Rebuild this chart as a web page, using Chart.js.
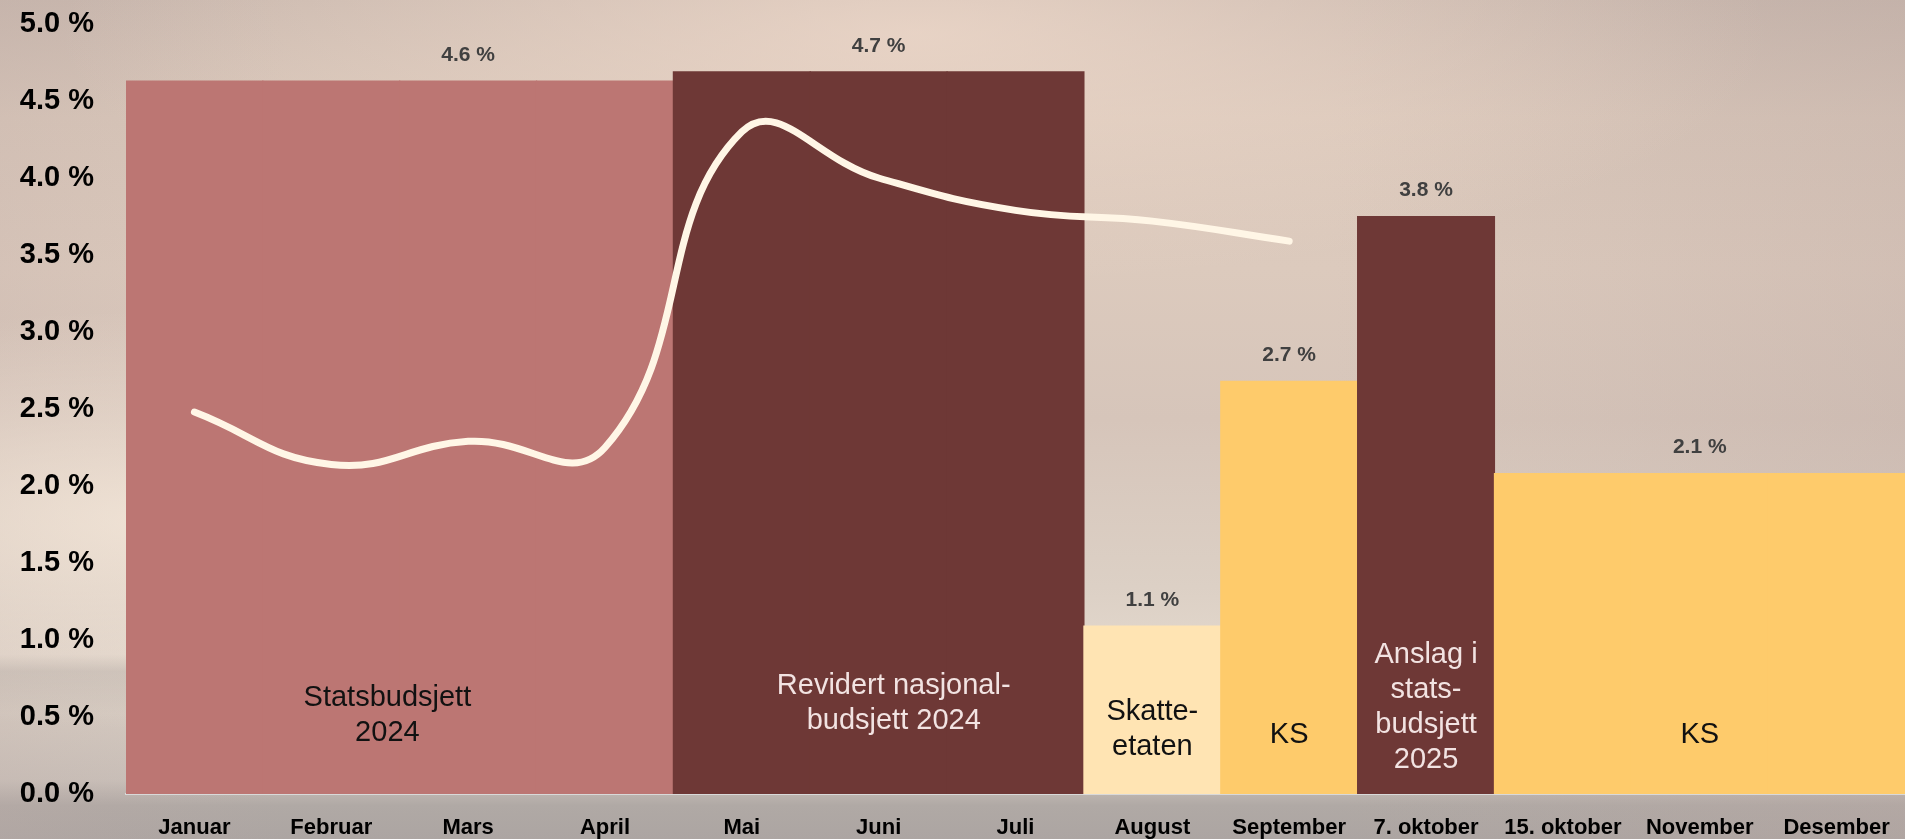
<!DOCTYPE html>
<html lang="no">
<head>
<meta charset="utf-8">
<title>Anslag på lønnsvekst 2024</title>
<script src="https://cdn.jsdelivr.net/npm/chart.js@4.4.1/dist/chart.umd.min.js"></script>
<style>
  html, body { margin: 0; padding: 0; }
  body {
    width: 1905px;
    height: 839px;
    overflow: hidden;
    background:
      radial-gradient(ellipse 45% 30% at 48% 4%, rgba(242, 220, 205, 0.7), rgba(242, 220, 205, 0) 100%),
      radial-gradient(ellipse 30% 25% at 8% 62%, rgba(245, 232, 218, 0.8), rgba(245, 232, 218, 0) 100%),
      linear-gradient(to right, rgba(190, 170, 165, 0.25) 0%, rgba(0, 0, 0, 0) 15%, rgba(0, 0, 0, 0) 70%, rgba(185, 165, 160, 0.3) 100%),
      linear-gradient(to bottom, #c9b8ae 0%, #d8c6b9 14%, #dccabd 32%, #d6c5ba 50%, #dcd0c5 70%, #e2d7cc 78%, #c4bbb3 80%, #d6ccc2 85%, #cac1ba 93%, #b0a9a5 96%, #aca5a2 100%);
  }
  #wrap { position: relative; width: 1905px; height: 839px; }
</style>
</head>
<body>
<div id="wrap"><canvas id="chart"></canvas></div>
<script>
const months = ['Januar', 'Februar', 'Mars', 'April', 'Mai', 'Juni', 'Juli', 'August', 'September', '7. oktober', '15. oktober', 'November', 'Desember'];

// estimated wage growth per category (bars), same value over the span of each estimate
const estimateValues = [4.63, 4.63, 4.63, 4.63, 4.69, 4.69, 4.69, 1.09, 2.68, 3.75, 2.08, 2.08, 2.08];
const estimateColors = ['#bc7673', '#bc7673', '#bc7673', '#bc7673', '#6e3836', '#6e3836', '#6e3836', '#ffe4b3', '#fecb6b', '#6e3836', '#fecb6b', '#fecb6b', '#fecb6b'];
// which bars carry the value label
const labelledBars = [2, 5, 7, 8, 9, 11];

// price growth line (Jan - Sep)
const priceValues = [2.48, 2.14, 2.29, 2.25, 4.3, 4.0, 3.79, 3.72, 3.59, null, null, null, null];

const yTicks = [0, 0.5, 1, 1.5, 2, 2.5, 3, 3.5, 4, 4.5, 5];

// names written inside the bars: anchor category (fractional index) and level in %
const noteTexts = [['Statsbudsjett', '2024'], ['Revidert nasjonal-', 'budsjett 2024'], ['Skatte-', 'etaten'], ['KS'], ['Anslag i', 'stats-', 'budsjett', '2025'], ['KS']];
const noteAt = [1.41, 5.11, 7, 8, 9, 11];
const noteLevel = [0.51, 0.59, 0.42, 0.38, 0.56, 0.38];
const noteColors = ['#111111', '#f2e3e2', '#111111', '#111111', '#f2e3e2', '#111111'];

const pct = v => v.toFixed(1) + ' %';

const labelPlugin = {
  id: 'labels',
  afterDatasetsDraw(chart) {
    const ctx = chart.ctx;
    const x = chart.scales.x;
    const y = chart.scales.y;
    const bars = chart.getDatasetMeta(1).data;
    ctx.save();
    ctx.textAlign = 'center';
    ctx.textBaseline = 'middle';

    ctx.font = 'bold 21px "Liberation Sans", Arial, sans-serif';
    ctx.fillStyle = '#404040';
    labelledBars.forEach(i => {
      const b = bars[i];
      ctx.fillText(pct(estimateValues[i]), b.x, b.y - 26);
    });

    ctx.font = '29px "Liberation Sans", Arial, sans-serif';
    noteTexts.forEach((lines, n) => {
      const cx = x.getPixelForValue(noteAt[n]);
      const cy = y.getPixelForValue(noteLevel[n]);
      const lh = 35;
      ctx.fillStyle = noteColors[n];
      lines.forEach((t, k) => {
        ctx.fillText(t, cx, cy + (k - (lines.length - 1) / 2) * lh);
      });
    });
    ctx.restore();
  }
};

new Chart(document.getElementById('chart'), {
  data: {
    labels: months,
    datasets: [{
      type: 'line',
      label: 'Prisvekst',
      data: priceValues,
      borderColor: '#fff6e6',
      borderWidth: 7,
      borderCapStyle: 'round',
      pointRadius: 0,
      tension: 0.45,
      order: 0
    }, {
      type: 'bar',
      label: 'Anslag',
      data: estimateValues,
      backgroundColor: estimateColors,
      borderWidth: 0,
      inflateAmount: 0.6,
      barPercentage: 1,
      categoryPercentage: 1,
      order: 1
    }]
  },
  options: {
    responsive: true,
    maintainAspectRatio: false,
    animation: false,
    layout: { padding: { top: 24, left: 19, right: 0, bottom: 0 } },
    plugins: {
      legend: { display: false },
      tooltip: { enabled: false }
    },
    scales: {
      x: {
        afterFit(scale) {
          scale.height = 45;
          scale.paddingLeft = 0;
          scale.paddingRight = 0;
        },
        grid: { display: false, drawTicks: false },
        border: { display: true, color: '#d9d9d9', width: 2 },
        ticks: {
          color: '#000000',
          font: { family: '"Liberation Sans", Arial, sans-serif', size: 22, weight: 'bold' },
          padding: 21,
          maxRotation: 0,
          autoSkip: false
        }
      },
      y: {
        min: 0,
        max: 5,
        afterBuildTicks(scale) { scale.ticks = yTicks.map(v => ({ value: v })); },
        afterFit(scale) {
          scale.width = 107;
          scale.paddingTop = 0;
          scale.paddingBottom = 0;
        },
        grid: { display: false, drawTicks: false },
        border: { display: false },
        ticks: {
          color: '#000000',
          font: { family: '"Liberation Sans", Arial, sans-serif', size: 29, weight: 'bold' },
          padding: 32,
          callback: v => pct(v)
        }
      }
    }
  },
  plugins: [labelPlugin]
});
</script>
</body>
</html>
